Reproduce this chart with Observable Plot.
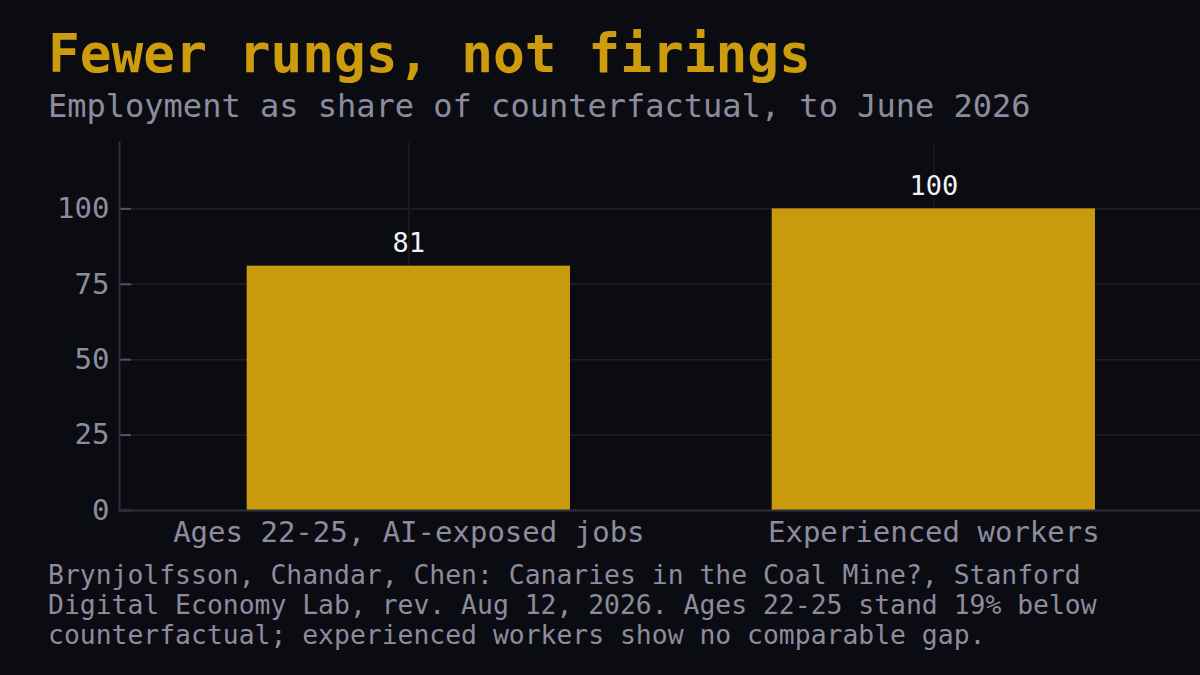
<!DOCTYPE html>
<html>
<head>
<meta charset="utf-8">
<script src="https://cdn.jsdelivr.net/npm/d3@7"></script>
<script src="https://cdn.jsdelivr.net/npm/@observablehq/plot@0.6"></script>
<style>
  html, body { margin: 0; padding: 0; background: #0b0c12; width: 1200px; height: 675px; overflow: hidden; }
  body { position: relative; font-family: "DejaVu Sans Mono", monospace; }
  #title { position: absolute; left: 48px; top: 24px; font-size: 52.8px; line-height: 60px; font-weight: bold; color: #cc9c0e; white-space: nowrap; }
  #subtitle { position: absolute; left: 48px; top: 86px; font-size: 32px; line-height: 40px; color: #8e8b9f; white-space: nowrap; }
  #chart { position: absolute; left: 0; top: 130px; }
  #caption { position: absolute; left: 48px; top: 560px; width: 1104px; font-size: 26.4px; line-height: 30px; color: #8e8b9f; }
</style>
</head>
<body>
<div id="title">Fewer rungs, not firings</div>
<div id="subtitle">Employment as share of counterfactual, to June 2026</div>
<div id="chart"></div>
<div id="caption">Brynjolfsson, Chandar, Chen: Canaries in the Coal Mine?, Stanford Digital Economy Lab, rev. Aug 12, 2026. Ages 22-25 stand 19% below counterfactual; experienced workers show no comparable gap.</div>
<script>
const categories = ["Ages 22-25, AI-exposed jobs", "Experienced workers"];
const values = [81, 100];
const yTicks = [0, 25, 50, 75, 100];

const data = categories.map((c, i) => ({category: c, value: values[i]}));

const textColor = "#8e8b9f";

const chart = Plot.plot({
  width: 1200,
  height: 420,
  marginLeft: 131,
  marginRight: 0,
  marginTop: 12,
  marginBottom: 40,
  style: {background: "transparent", fontFamily: "'DejaVu Sans Mono', monospace", color: textColor},
  x: {domain: categories, paddingInner: 0.3842, paddingOuter: 0.2102, align: 0.5242, round: false, label: null},
  y: {domain: [0, 122], label: null},
  marks: [
    Plot.gridY(yTicks, {stroke: "#1e1f29", strokeOpacity: 1, strokeWidth: 1.5}),
    Plot.gridX({stroke: "#1a1b24", strokeOpacity: 1, strokeWidth: 1.5}),
    Plot.barY(data, {x: "category", y: "value", fill: "#c99a0c"}),
    Plot.text(data, {x: "category", y: "value", text: d => String(d.value), dy: -22.5, fill: "#f2f2f2", fontSize: 27}),
    Plot.axisY(yTicks, {tickSize: 12, tickPadding: 10, fontSize: 29, stroke: "#555566", strokeWidth: 2, fill: textColor, label: null}),
    Plot.axisX({tickSize: 0, tickPadding: 11, fontSize: 29, fill: textColor, label: null}),
    Plot.ruleY([0], {insetLeft: -13, stroke: "#2c2c3c", strokeWidth: 2}),
    Plot.frame({anchor: "left", insetLeft: -12, stroke: "#2c2c3c", strokeWidth: 2})
  ]
});
document.getElementById("chart").appendChild(chart);
</script>
</body>
</html>
